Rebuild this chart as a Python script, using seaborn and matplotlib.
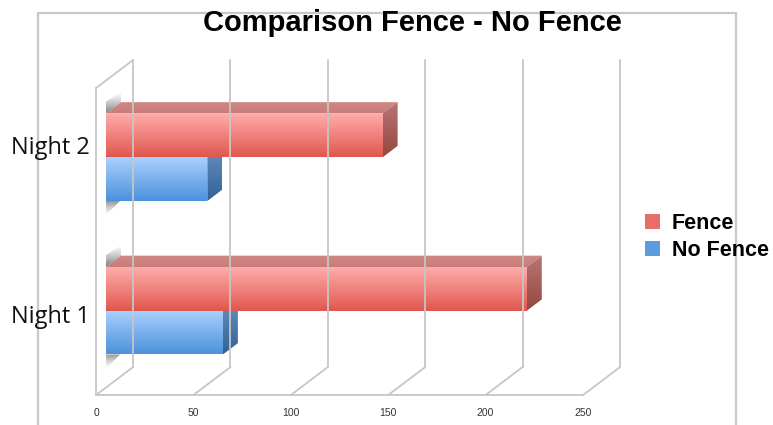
import numpy as np
import pandas as pd
import matplotlib
matplotlib.use("Agg")
import matplotlib.pyplot as plt
import matplotlib.transforms as mtransforms
from matplotlib.patches import Polygon, Patch
from matplotlib.lines import Line2D
from matplotlib.colors import to_rgba
import seaborn as sns

# ---- data ----
nights = ["Night 2", "Night 1"]
series = ["Fence", "No Fence"]
fence = [142, 216]
no_fence = [52, 60]
x_ticks = [0, 50, 100, 150, 200, 250]

df = pd.DataFrame({
    "night": nights * 2,
    "group": [series[0]] * len(nights) + [series[1]] * len(nights),
    "count": fence + no_fence,
})

DPI = 100
W, H = 773, 425

sns.set_theme(style="white")
plt.rcParams["font.family"] = ["Liberation Sans", "DejaVu Sans"]
plt.rcParams["text.color"] = "black"

fig = plt.figure(figsize=(W / DPI, H / DPI), dpi=DPI)
fig.patch.set_facecolor("white")

# axes holding the bar plane (middle depth of the 3-D box)
left_px, right_px = 106, 593
top_px, bottom_px = 80.5, 387.5
ax = fig.add_axes([left_px / W, 1 - bottom_px / H,
                   (right_px - left_px) / W, (bottom_px - top_px) / H])

legend_colors = {"Fence": "#E86E69", "No Fence": "#5A9BE1"}
sns.barplot(data=df, x="count", y="night", hue="group", order=nights,
            hue_order=series, orient="h", width=0.57, palette=legend_colors,
            errorbar=None, saturation=1, legend=False, ax=ax)
ax.set_xlim(0, 250)
ax.set_ylim(1.5, -0.5)
ax.set_autoscale_on(False)
ax.axis("off")

ID = mtransforms.IdentityTransform()

# depth offsets (pixels, y up) relative to the bar plane
SLOPE = 28.0 / 37.0
FRONT = (-10.0, -10.0 * SLOPE)
BACK = (27.0, 27.0 * SLOPE)
BAR_DEPTH = (15.0, 15.0 * SLOPE)


def disp(x, y, off=(0.0, 0.0)):
    px, py = ax.transData.transform((x, y))
    return np.array([px + off[0], py + off[1]])


def line(p, q, **kw):
    fig.add_artist(Line2D([p[0], q[0]], [p[1], q[1]], transform=ID, **kw))


def gradient_poly(pts, c_top, c_bottom, z):
    pts = np.asarray(pts, dtype=float)
    poly = Polygon(pts, closed=True, transform=ID, facecolor="none",
                   edgecolor="none")
    ax.add_patch(poly)
    x0, y0 = ax.transData.inverted().transform((pts[:, 0].min(), pts[:, 1].max()))
    x1, y1 = ax.transData.inverted().transform((pts[:, 0].max(), pts[:, 1].min()))
    n = 64
    t = np.linspace(0, 1, n)[:, None]
    ct, cb = np.array(to_rgba(c_top)), np.array(to_rgba(c_bottom))
    img = (ct * (1 - t) + cb * t)[:, None, :]
    im = ax.imshow(img, extent=(x0, x1, y1, y0), origin="upper",
                   aspect="auto", zorder=z, interpolation="bilinear")
    im.set_clip_path(poly)


grid_kw = dict(color="#C6C6C6", lw=1.3, zorder=1)

# back wall gridlines and floor depth lines
for v in x_ticks:
    line(disp(v, 1.5, BACK), disp(v, -0.5, BACK), **grid_kw)
    line(disp(v, 1.5, FRONT), disp(v, 1.5, BACK), **grid_kw)
# floor front edge
line(disp(0, 1.5, FRONT), disp(250, 1.5, FRONT), **grid_kw)
# left wall
line(disp(0, 1.5, FRONT), disp(0, -0.5, FRONT), **grid_kw)
line(disp(0, -0.5, FRONT), disp(0, -0.5, BACK), **grid_kw)

# x tick labels on the front edge of the floor
for v in x_ticks:
    p = disp(v, 1.5, FRONT)
    fig.text(p[0] / W, (p[1] - 18) / H, str(v), ha="center", va="center",
             fontsize=7.5, color="#333333")

# category labels (small vertical nudges per label)
label_nudge = [9, -6]
for i, name in enumerate(nights):
    p = disp(0, i, (-16, label_nudge[i]))
    fig.text(p[0] / W, p[1] / H, name, ha="right", va="center",
             fontsize=17, family=["Open Sans", "DejaVu Sans"], color="#111111")

# 3-D bar styling
styles = {
    "Fence": dict(front=("#FFADAB", "#E0574E"), top=("#CF8886", "#C97C7A"),
                  side=("#B97674", "#964640"), z=4),
    "No Fence": dict(front=("#AAD0FF", "#4C92DB"), top=("#8AA9CF", "#8AA9CF"),
                     side=("#6C90BE", "#30639B"), z=2),
}

for name, cont in zip(series, ax.containers):
    st = styles[name]
    z = st["z"]
    for rect in cont.patches:
        x0, y0 = rect.get_x(), rect.get_y()
        w, h = rect.get_width(), rect.get_height()
        rect.set_visible(False)
        tl, tr = disp(x0, y0), disp(x0 + w, y0)
        bl, br = disp(x0, y0 + h), disp(x0 + w, y0 + h)
        d = np.array(BAR_DEPTH)
        gradient_poly([tl, tr, tr + d, tl + d], *st["top"], z)
        gradient_poly([tr, br, br + d, tr + d], *st["side"], z)
        gradient_poly([tl, tr, br, bl], *st["front"], z + 0.5)

# soft shadows against the left wall at each bar group
d = np.array(BAR_DEPTH)
for i in range(len(nights)):
    top = disp(0, i - 0.285)
    bot = disp(0, i + 0.285)
    gradient_poly([top, top + d, top + d + (0, 10), top + (0, 12)],
                  (0.5, 0.5, 0.5, 0.0), (0.3, 0.3, 0.3, 0.75), 1.5)
    gradient_poly([bot, bot + (14, 0), bot + (0, -14)],
                  (0.3, 0.3, 0.3, 0.6), (0.5, 0.5, 0.5, 0.0), 1.5)

# outer frame
frame_kw = dict(color="#C8C8C8", lw=1.6)
line((38, H - 13), (736, H - 13), **frame_kw)
line((38, H - 13), (38, 0), **frame_kw)
line((736, H - 13), (736, 0), **frame_kw)

# title
fig.text(412 / W, 1 - 23 / H, "Comparison Fence - No Fence", ha="center",
         va="center", fontsize=21, fontweight="bold", color="black")

# legend
handles = [Patch(facecolor=legend_colors[s], edgecolor="none") for s in series]
leg = fig.legend(handles, series, loc="upper left",
                 bbox_to_anchor=(645 / W, 1 - 213 / H), frameon=False,
                 prop=dict(weight="bold", size=15.5), handlelength=0.7,
                 handleheight=0.7, handletextpad=0.55, labelspacing=0.26,
                 borderpad=0, borderaxespad=0)
for txt in leg.get_texts():
    txt.set_color("black")

fig.savefig("out.png", dpi=DPI, facecolor="white")
